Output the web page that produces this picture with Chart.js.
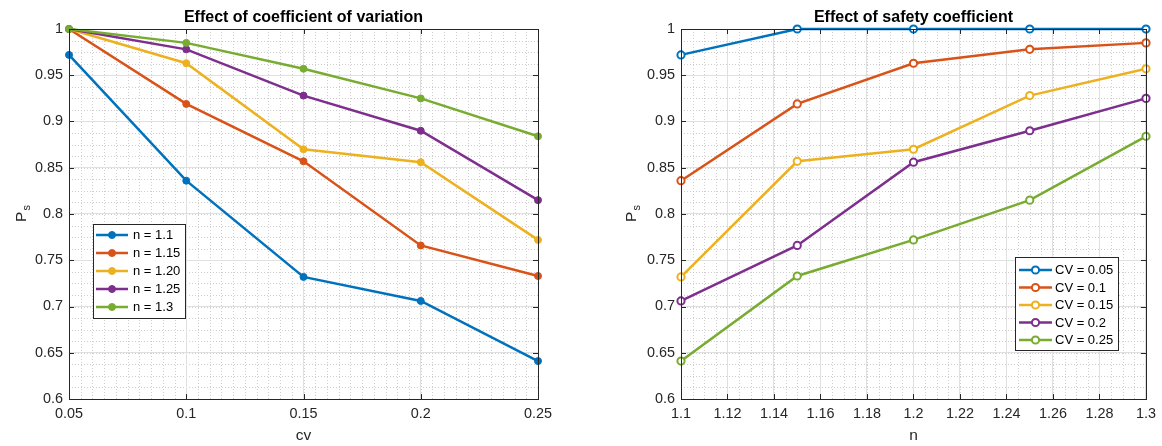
<!DOCTYPE html>
<html lang="en">
<head>
<meta charset="UTF-8">
<title>Effect of coefficient of variation / safety coefficient</title>
<style>
  body { margin: 0; background: #fff; }
  .wrap { position: absolute; top: 0; width: 581px; height: 446px; }
  #leftWrap { left: 0; }
  #rightWrap { left: 581px; }
</style>
</head>
<body>
<div class="wrap" id="leftWrap"><canvas id="cvChart"></canvas></div>
<div class="wrap" id="rightWrap"><canvas id="nChart"></canvas></div>

<script src="https://cdn.jsdelivr.net/npm/chart.js"></script>
<script>
// x values of both plots
const cvValues = [0.05, 0.1, 0.15, 0.2, 0.25];
const nValues = [1.1, 1.15, 1.2, 1.25, 1.3];

// left plot: Ps vs cv, one line per safety coefficient n
const cvSeriesLabels = ['n = 1.1', 'n = 1.15', 'n = 1.20', 'n = 1.25', 'n = 1.3'];
const psN110 = [0.972, 0.836, 0.732, 0.706, 0.641];
const psN115 = [1.000, 0.919, 0.857, 0.766, 0.733];
const psN120 = [1.000, 0.963, 0.870, 0.856, 0.772];
const psN125 = [1.000, 0.978, 0.928, 0.890, 0.815];
const psN130 = [1.000, 0.985, 0.957, 0.925, 0.884];

// right plot: Ps vs n, one line per coefficient of variation
const nSeriesLabels = ['CV = 0.05', 'CV = 0.1', 'CV = 0.15', 'CV = 0.2', 'CV = 0.25'];
const psCV005 = [0.972, 1.000, 1.000, 1.000, 1.000];
const psCV010 = [0.836, 0.919, 0.963, 0.978, 0.985];
const psCV015 = [0.732, 0.857, 0.870, 0.928, 0.957];
const psCV020 = [0.706, 0.766, 0.856, 0.890, 0.925];
const psCV025 = [0.641, 0.733, 0.772, 0.815, 0.884];

const colors = ['#0072BD', '#D95319', '#EDB120', '#7E2F8E', '#77AC30'];

const FONT = '"Liberation Sans", Arial, sans-serif';
Chart.defaults.font.family = FONT;
Chart.defaults.color = '#262626';

// plain number labels: 1, 0.95, 1.1 ... (no trailing zeros)
const plainTick = v => String(parseFloat(Number(v).toFixed(4)));

// minor grid, box with inward ticks, title, y label and legend (MATLAB look)
const matlabAxes = {
  id: 'matlabAxes',
  beforeDraw(chart, args, o) {
    const { ctx, chartArea: a, scales: { x, y } } = chart;
    ctx.save();
    ctx.strokeStyle = '#cfcfcf';
    ctx.lineWidth = 1;
    ctx.setLineDash([1, 2]);
    ctx.beginPath();
    let n = Math.round((x.max - x.min) / o.xMinor);
    for (let i = 1; i < n; i++) {
      const px = Math.round(x.getPixelForValue(x.min + i * o.xMinor)) + 0.5;
      ctx.moveTo(px, a.top); ctx.lineTo(px, a.bottom);
    }
    n = Math.round((y.max - y.min) / o.yMinor);
    for (let i = 1; i < n; i++) {
      const py = Math.round(y.getPixelForValue(y.min + i * o.yMinor)) + 0.5;
      ctx.moveTo(a.left, py); ctx.lineTo(a.right, py);
    }
    ctx.stroke();
    ctx.restore();
  },
  afterDatasetsDraw(chart) {
    const { ctx, chartArea: a, scales: { x, y } } = chart;
    ctx.save();
    ctx.strokeStyle = '#262626';
    ctx.lineWidth = 1;
    ctx.beginPath();
    x.ticks.forEach(t => {
      const px = Math.round(x.getPixelForValue(t.value)) + 0.5;
      ctx.moveTo(px, a.bottom); ctx.lineTo(px, a.bottom - 5);
      ctx.moveTo(px, a.top); ctx.lineTo(px, a.top + 5);
    });
    y.ticks.forEach(t => {
      const py = Math.round(y.getPixelForValue(t.value)) + 0.5;
      ctx.moveTo(a.left, py); ctx.lineTo(a.left + 5, py);
      ctx.moveTo(a.right, py); ctx.lineTo(a.right - 5, py);
    });
    ctx.stroke();
    ctx.strokeRect(Math.round(a.left) + 0.5, Math.round(a.top) + 0.5,
                   Math.round(a.right - a.left), Math.round(a.bottom - a.top));
    ctx.restore();
  },
  afterDraw(chart, args, o) {
    const { ctx, chartArea: a } = chart;
    ctx.save();
    // title
    ctx.fillStyle = '#000';
    ctx.font = 'bold 16px ' + FONT;
    ctx.textAlign = 'center';
    ctx.textBaseline = 'alphabetic';
    ctx.fillText(o.title, (a.left + a.right) / 2, 22);

    // y label P_s
    ctx.fillStyle = '#262626';
    ctx.translate(o.ylabelX, (a.top + a.bottom) / 2);
    ctx.rotate(-Math.PI / 2);
    ctx.font = '15.5px ' + FONT;
    const wP = ctx.measureText('P').width;
    ctx.font = '11px ' + FONT;
    const wS = ctx.measureText('s').width;
    const start = -(wP + wS) / 2;
    ctx.textAlign = 'left';
    ctx.font = '15.5px ' + FONT;
    ctx.fillText('P', start, 0);
    ctx.font = '11px ' + FONT;
    ctx.fillText('s', start + wP + 1, 4);
    ctx.setTransform(1, 0, 0, 1, 0, 0);
    ctx.restore();

    // legend
    const L = o.legend;
    ctx.save();
    ctx.fillStyle = '#fff';
    ctx.fillRect(L.x, L.y, L.w, L.h);
    ctx.strokeStyle = '#262626';
    ctx.lineWidth = 1;
    ctx.strokeRect(L.x + 0.5, L.y + 0.5, L.w, L.h);
    ctx.font = '13px ' + FONT;
    ctx.textAlign = 'left';
    ctx.textBaseline = 'middle';
    chart.data.datasets.forEach((ds, i) => {
      const cy = L.rowY + i * L.rowGap;
      ctx.strokeStyle = ds.borderColor;
      ctx.lineWidth = 2.5;
      ctx.beginPath();
      ctx.moveTo(L.x + L.lineFrom, cy); ctx.lineTo(L.x + L.lineTo, cy);
      ctx.stroke();
      const mx = L.x + (L.lineFrom + L.lineTo) / 2;
      ctx.beginPath();
      ctx.arc(mx, cy, ds.pointRadius, 0, Math.PI * 2);
      ctx.fillStyle = ds.pointBackgroundColor;
      ctx.fill();
      ctx.lineWidth = ds.pointBorderWidth;
      ctx.stroke();
      ctx.fillStyle = '#000';
      ctx.fillText(ds.label, L.x + L.textX, cy + 0.5);
    });
    ctx.restore();
  }
};

function makeDatasets(xs, labels, series, filled) {
  return series.map((vals, i) => ({
    label: labels[i],
    data: xs.map((x, j) => ({ x: x, y: vals[j] })),
    showLine: true,
    borderColor: colors[i],
    backgroundColor: colors[i],
    borderWidth: 2.5,
    pointRadius: filled ? 3.5 : 3.6,
    pointBorderWidth: filled ? 1 : 2,
    pointBackgroundColor: filled ? colors[i] : '#ffffff',
    pointBorderColor: colors[i],
    clip: false,
    order: series.length - 1 - i
  }));
}

function makeChart(id, xs, labels, series, filled, ax) {
  return new Chart(document.getElementById(id), {
    type: 'scatter',
    data: { datasets: makeDatasets(xs, labels, series, filled) },
    options: {
      responsive: true,
      maintainAspectRatio: false,
      animation: false,
      layout: { padding: { top: 29, right: ax.padRight, bottom: 0, left: 0 } },
      plugins: {
        legend: { display: false },
        tooltip: { enabled: false },
        matlabAxes: ax
      },
      scales: {
        x: {
          type: 'linear',
          min: ax.xMin, max: ax.xMax,
          ticks: { stepSize: ax.xStep, padding: 6, font: { size: 14.4 }, color: '#262626',
                   maxRotation: 0, autoSkip: false, callback: plainTick },
          grid: { color: '#e0e0e0', drawTicks: false },
          border: { display: false },
          title: { display: true, text: ax.xTitle, font: { size: 15.5 }, color: '#262626', padding: 1 },
          afterFit: s => { s.height = 47; }
        },
        y: {
          type: 'linear',
          min: 0.6, max: 1,
          ticks: { stepSize: 0.05, padding: 6, font: { size: 14.4 }, color: '#262626', callback: plainTick },
          grid: { color: '#e0e0e0', drawTicks: false },
          border: { display: false },
          afterFit: s => { s.width = ax.yWidth; }
        }
      }
    },
    plugins: [matlabAxes]
  });
}

makeChart('cvChart', cvValues, cvSeriesLabels,
  [psN110, psN115, psN120, psN125, psN130], true, {
    title: 'Effect of coefficient of variation',
    xTitle: 'cv', xMin: 0.05, xMax: 0.25, xStep: 0.05,
    xMinor: 0.005, yMinor: 0.0125,
    yWidth: 69, padRight: 43, ylabelX: 26,
    legend: { x: 93, y: 224, w: 92, h: 94, lineFrom: 3, lineTo: 35, textX: 40, rowY: 235, rowGap: 18 }
  });

makeChart('nChart', nValues, nSeriesLabels,
  [psCV005, psCV010, psCV015, psCV020, psCV025], false, {
    title: 'Effect of safety coefficient',
    xTitle: 'n', xMin: 1.1, xMax: 1.3, xStep: 0.02,
    xMinor: 0.005, yMinor: 0.0125,
    yWidth: 100, padRight: 13, ylabelX: 55,
    legend: { x: 434, y: 257, w: 103, h: 93, lineFrom: 4, lineTo: 37, textX: 40, rowY: 270, rowGap: 17.5 }
  });
</script>
</body>
</html>
